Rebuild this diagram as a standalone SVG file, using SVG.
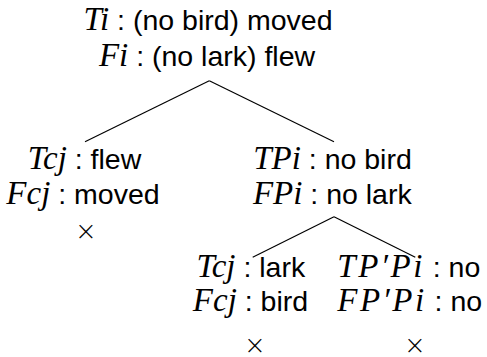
<svg xmlns="http://www.w3.org/2000/svg" width="487" height="357" viewBox="0 0 487 357">
  <style>
    text { font-family: "Liberation Sans", Arial, sans-serif; font-size: 28.5px; fill: #000; }
    .m { font-family: "Liberation Serif", "Times New Roman", serif; font-style: italic; font-size: 33px; }
    .wide { letter-spacing: 2.5px; }
    .x { font-family: "DejaVu Sans", sans-serif; font-size: 26px; font-weight: 200; text-anchor: middle; }
    .c { text-anchor: middle; }
    .edge { stroke: #000; stroke-width: 1.2; fill: none; }
  </style>
  <rect width="487" height="357" fill="#fff"/>

  <g id="connectors">
    <line class="edge" x1="209.3" y1="80.7" x2="85" y2="141.7"/>
    <line class="edge" x1="209.3" y1="80.7" x2="334" y2="141.7"/>
    <line class="edge" x1="334" y1="216.7" x2="252.7" y2="257.3"/>
    <line class="edge" x1="334" y1="216.7" x2="415.3" y2="257.3"/>
  </g>

  <g id="root">
    <text class="c" x="208" y="30"><tspan class="m">Ti</tspan> : (no bird) moved</text>
    <text class="c" x="207" y="65.5"><tspan class="m">Fi</tspan> : (no lark) flew</text>
  </g>

  <g id="left">
    <text class="c" x="84.5" y="168.5"><tspan class="m">Tcj</tspan> : flew</text>
    <text class="c" x="83" y="204"><tspan class="m">Fcj</tspan> : moved</text>
    <text class="x" x="86" y="240">×</text>
  </g>

  <g id="right">
    <text class="c" x="332.5" y="168.5"><tspan class="m">TPi</tspan> : no bird</text>
    <text class="c" x="332.3" y="203.5"><tspan class="m">FPi</tspan> : no lark</text>
  </g>

  <g id="right-left">
    <text class="c" x="250.8" y="277"><tspan class="m">Tcj</tspan> : lark</text>
    <text class="c" x="250.5" y="311"><tspan class="m">Fcj</tspan> : bird</text>
    <text class="x" x="255" y="354">×</text>
  </g>

  <g id="right-right">
    <text x="337.3" y="277"><tspan class="m wide">TP′Pi</tspan> : no</text>
    <text x="337.3" y="311"><tspan class="m wide">FP′Pi</tspan> : no</text>
    <text class="x" x="415" y="354">×</text>
  </g>
</svg>
